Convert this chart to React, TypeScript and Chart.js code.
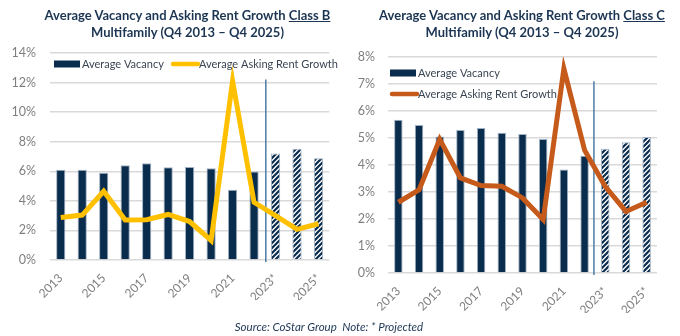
import React, { useEffect, useRef } from "react";
import { Chart, registerables } from "chart.js";

Chart.register(...registerables);

const years = ["2013", "2014", "2015", "2016", "2017", "2018", "2019", "2020", "2021", "2022", "2023*", "2024*", "2025*"];
const classBVacancy = [6.1, 6.1, 5.9, 6.4, 6.55, 6.27, 6.29, 6.2, 4.75, 5.98, 7.2, 7.53, 6.88];
const classBRent = [2.88, 3.04, 4.65, 2.7, 2.72, 3.08, 2.6, 1.32, 12.1, 3.9, 3.0, 2.07, 2.45];
const classCVacancy = [5.68, 5.48, 5.06, 5.3, 5.37, 5.19, 5.15, 4.96, 3.83, 4.34, 4.6, 4.84, 5.04];
const classCRent = [2.62, 3.08, 4.95, 3.52, 3.24, 3.21, 2.78, 1.98, 7.57, 4.55, 3.2, 2.28, 2.62];
const projectedStart = 10;

const NAVY = "#0a2c4d";
const FONT = "Lato";

function makeHatch(): CanvasPattern | string {
  const c = document.createElement("canvas");
  const s = 5;
  c.width = s;
  c.height = s;
  const ctx = c.getContext("2d");
  if (!ctx) return "#fff";
  ctx.fillStyle = "#ffffff";
  ctx.fillRect(0, 0, s, s);
  ctx.strokeStyle = NAVY;
  ctx.lineWidth = 2.2;
  ctx.beginPath();
  ctx.moveTo(-1, s + 1);
  ctx.lineTo(s + 1, -1);
  ctx.moveTo(-1, 1);
  ctx.lineTo(1, -1);
  ctx.moveTo(s - 1, s + 1);
  ctx.lineTo(s + 1, s - 1);
  ctx.stroke();
  return ctx.createPattern(c, "repeat") || "#fff";
}

type LegendItem = { kind: "box" | "line"; color: string; text: string; x: number; y: number };

const overlayPlugin = {
  id: "overlay",
  beforeDatasetsDraw(chart: any, _a: any, opts: any) {
    const { ctx, scales } = chart;
    const x = (scales.x.getPixelForValue(projectedStart - 1) + scales.x.getPixelForValue(projectedStart)) / 2 + opts.divOffset;
    const yTop = scales.y.getPixelForValue(opts.divTop);
    const yBot = scales.y.getPixelForValue(0) + 2;
    ctx.save();
    ctx.strokeStyle = "#4d7ca6";
    ctx.lineWidth = 1.5;
    ctx.beginPath();
    ctx.moveTo(x, yTop);
    ctx.lineTo(x, yBot);
    ctx.stroke();
    ctx.restore();
  },
  afterDraw(chart: any, _a: any, opts: any) {
    const { ctx } = chart;
    const items: LegendItem[] = opts.items || [];
    ctx.save();
    ctx.font = `11px ${FONT}`;
    ctx.textBaseline = "middle";
    ctx.textAlign = "left";
    for (const it of items) {
      if (it.kind === "box") {
        ctx.fillStyle = it.color;
        ctx.fillRect(it.x, it.y - 3.5, 26, 7);
      } else {
        ctx.strokeStyle = it.color;
        ctx.lineWidth = 4.5;
        ctx.lineCap = "round";
        ctx.beginPath();
        ctx.moveTo(it.x + 2, it.y);
        ctx.lineTo(it.x + 27, it.y);
        ctx.stroke();
      }
      ctx.fillStyle = "#3a4553";
      ctx.fillText(it.text, it.x + 28, it.y + 0.5);
    }
    ctx.restore();
  },
};

function buildConfig(
  vacancy: number[],
  rent: number[],
  lineColor: string,
  yMax: number,
  yStep: number,
  padding: any,
  yWidth: number,
  yPad: number,
  barPct: number,
  divTop: number,
  divOffset: number,
  items: LegendItem[]
): any {
  const hatch = makeHatch();
  const barColors = vacancy.map((_, i) => (i >= projectedStart ? hatch : NAVY));
  return {
    type: "bar",
    data: {
      labels: years,
      datasets: [
        {
          type: "line",
          label: "Average Asking Rent Growth",
          data: rent,
          borderColor: lineColor,
          backgroundColor: lineColor,
          borderWidth: 5,
          pointRadius: 0,
          tension: 0,
          borderJoinStyle: "miter",
          order: 0,
        },
        {
          type: "bar",
          label: "Average Vacancy",
          data: vacancy,
          backgroundColor: barColors,
          borderColor: "#9fb1c2",
          borderWidth: 1,
          categoryPercentage: 1,
          barPercentage: barPct,
          order: 1,
        },
      ],
    },
    plugins: [overlayPlugin],
    options: {
      responsive: false,
      animation: false,
      layout: { padding },
      plugins: {
        legend: { display: false },
        tooltip: { enabled: false },
        title: { display: false },
        overlay: { divTop, divOffset, items },
      },
      scales: {
        x: {
          grid: { display: false, drawTicks: false },
          border: { display: false },
          ticks: {
            autoSkip: false,
            maxRotation: 45,
            minRotation: 45,
            padding: 11,
            color: "#7f7f7f",
            font: { family: FONT, size: 12 },
            callback: (_v: any, i: number) => (i % 2 === 0 ? years[i] : ""),
          },
          afterFit: (s: any) => {
            s.height = 40;
          },
        },
        y: {
          min: 0,
          max: yMax,
          grid: { color: "#d9d9d9", lineWidth: 1.5, drawTicks: false },
          border: { display: false },
          ticks: {
            stepSize: yStep,
            padding: yPad,
            color: "#7f7f7f",
            font: { family: FONT, size: 12.5 },
            callback: (v: any) => `${v}%`,
          },
          afterFit: (s: any) => {
            s.width = yWidth;
          },
        },
      },
    },
  };
}

export default function App() {
  const leftRef = useRef<HTMLCanvasElement>(null);
  const rightRef = useRef<HTMLCanvasElement>(null);

  useEffect(() => {
    document.body.style.margin = "0";
    const left = new Chart(
      leftRef.current as HTMLCanvasElement,
      buildConfig(classBVacancy, classBRent, "#ffc000", 14, 2, { top: 53, right: 8, bottom: 36, left: 0 }, 50, 14, 0.43, 12.2, 1, [
        { kind: "box", color: NAVY, text: "Average Vacancy", x: 54, y: 64 },
        { kind: "line", color: "#ffc000", text: "Average Asking Rent Growth", x: 171, y: 64 },
      ])
    );
    const right = new Chart(
      rightRef.current as HTMLCanvasElement,
      buildConfig(classCVacancy, classCRent, "#c55a1b", 8, 1, { top: 57, right: 23, bottom: 23, left: 0 }, 48, 13, 0.41, 7.1, -1, [
        { kind: "box", color: NAVY, text: "Average Vacancy", x: 50, y: 73 },
        { kind: "line", color: "#c55a1b", text: "Average Asking Rent Growth", x: 50, y: 94 },
      ])
    );
    return () => {
      left.destroy();
      right.destroy();
    };
  }, []);

  const titleStyle: React.CSSProperties = {
    position: "absolute",
    top: 7,
    textAlign: "center",
    fontFamily: FONT,
    fontWeight: 700,
    fontSize: 13,
    lineHeight: "17px",
    color: "#1c3553",
    whiteSpace: "nowrap",
  };

  return (
    <div style={{ position: "relative", width: 680, height: 336, background: "#fff", overflow: "hidden" }}>
      <canvas ref={leftRef} width={340} height={336} style={{ position: "absolute", left: 0, top: 0 }} />
      <canvas ref={rightRef} width={340} height={336} style={{ position: "absolute", left: 340, top: 0 }} />
      <div style={{ ...titleStyle, left: 0, width: 375 }}>
        Average Vacancy and Asking Rent Growth <u>Class B</u>
        <br />
        Multifamily (Q4 2013 – Q4 2025)
      </div>
      <div style={{ ...titleStyle, left: 364, width: 316 }}>
        Average Vacancy and Asking Rent Growth <u>Class C</u>
        <br />
        Multifamily (Q4 2013 – Q4 2025)
      </div>
      <div
        style={{
          position: "absolute",
          left: 0,
          width: 658,
          top: 319,
          textAlign: "center",
          fontFamily: FONT,
          fontStyle: "italic",
          fontSize: 11.5,
          lineHeight: "16px",
          color: "#1c3553",
          whiteSpace: "pre",
        }}
      >
        {"Source: CoStar Group  Note: * Projected"}
      </div>
    </div>
  );
}
